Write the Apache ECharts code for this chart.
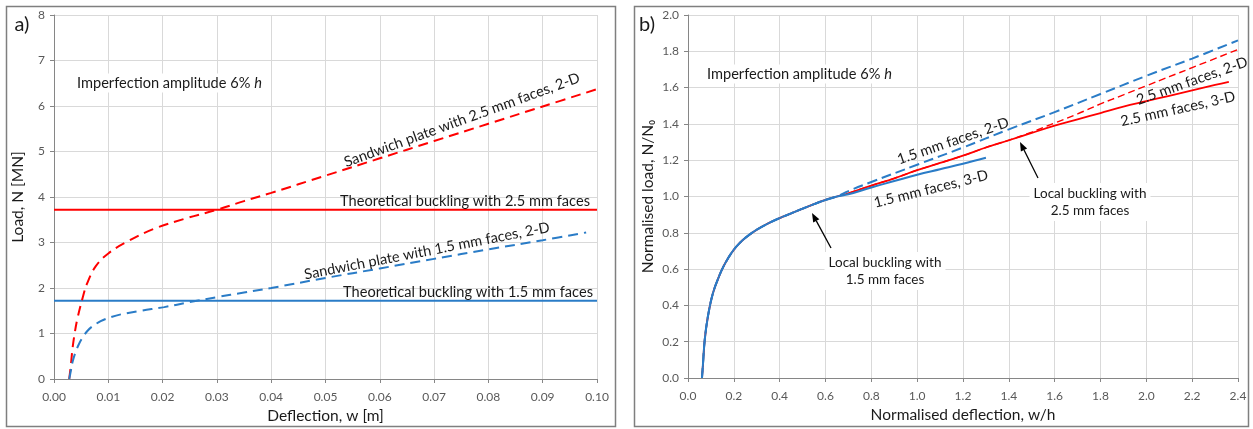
<!DOCTYPE html>
<html>
<head>
<meta charset="utf-8">
<script src="https://cdn.jsdelivr.net/npm/echarts@6/dist/echarts.min.js"></script>
<style>
  html, body { margin: 0; padding: 0; background: #fff; }
  #main { width: 1253px; height: 429px; }
</style>
</head>
<body>
<div id="main"></div>
<script>
// ---- data: panel a) load vs deflection [m, MN]
const sandwich25 = [
  [0.0028, 0], [0.0031, 0.3], [0.0034, 0.66], [0.0038, 1.0], [0.0043, 1.32], [0.0052, 1.75],
  [0.0061, 2.1], [0.0077, 2.48], [0.01, 2.76], [0.0135, 3.02], [0.0184, 3.3],
  [0.024, 3.52], [0.03, 3.72], [0.035, 3.91], [0.04, 4.09], [0.05, 4.47], [0.06, 4.85],
  [0.07, 5.23], [0.08, 5.61], [0.09, 5.99], [0.1, 6.37]
];
const sandwich15 = [
  [0.0028, 0], [0.0031, 0.18], [0.0034, 0.37], [0.004, 0.6], [0.0046, 0.77], [0.0052, 0.9],
  [0.0061, 1.05], [0.007, 1.15], [0.0086, 1.27], [0.0105, 1.36], [0.0123, 1.42], [0.016, 1.5],
  [0.0203, 1.58], [0.025, 1.69], [0.03, 1.8], [0.035, 1.9], [0.04, 2.0], [0.05, 2.22],
  [0.06, 2.43], [0.07, 2.64], [0.08, 2.85], [0.09, 3.05], [0.098, 3.22]
];
const buckling25 = 3.72;
const buckling15 = 1.72;

// ---- data: panel b) normalised load vs normalised deflection
const commonPath = [
  [0.061, 0], [0.065, 0.07], [0.073, 0.21], [0.087, 0.34], [0.109, 0.468], [0.138, 0.568],
  [0.155, 0.615], [0.175, 0.66], [0.2, 0.707], [0.225, 0.743], [0.25, 0.772], [0.3, 0.817],
  [0.35, 0.852], [0.4, 0.881], [0.45, 0.907], [0.5, 0.933], [0.55, 0.958], [0.6, 0.981], [0.65, 1.0]
];
const faces25_3D = [
  [0.7, 1.018], [0.8, 1.06], [0.9, 1.10], [1.0, 1.145], [1.1, 1.185], [1.2, 1.225],
  [1.3, 1.27], [1.4, 1.31], [1.5, 1.35], [1.6, 1.39], [1.7, 1.425], [1.8, 1.46],
  [1.9, 1.495], [2.0, 1.525], [2.1, 1.555], [2.2, 1.585], [2.3, 1.615], [2.36, 1.632]
];
const faces25_2D = [
  [0.7, 1.018], [0.8, 1.06], [0.9, 1.10], [1.0, 1.145], [1.1, 1.185], [1.2, 1.225],
  [1.3, 1.27], [1.4, 1.31], [1.5, 1.355], [1.6, 1.405], [1.7, 1.455], [1.8, 1.51],
  [1.9, 1.56], [2.0, 1.61], [2.2, 1.71], [2.4, 1.81]
];
const faces15_2D = [
  [0.7, 1.03], [0.8, 1.08], [1.0, 1.175], [1.2, 1.27], [1.4, 1.37], [1.6, 1.465],
  [1.8, 1.565], [2.0, 1.665], [2.2, 1.76], [2.4, 1.86]
];
const faces15_3D = [
  [0.7, 1.012], [0.8, 1.05], [0.9, 1.085], [1.0, 1.12], [1.1, 1.15], [1.2, 1.18], [1.3, 1.213]
];

const RED = '#ff0000';
const BLUE = '#2a7cc7';
const FONT = 'Lato';
const FS = 14.6;

const chart = echarts.init(document.getElementById('main'));

function axisX(grid, min, max, step, digits, name) {
  return {
    type: 'value', gridIndex: grid, min: min, max: max, interval: step,
    name: name, nameLocation: 'middle', nameGap: 29,
    nameTextStyle: { color: '#1a1a1a', fontSize: 15.5, fontFamily: FONT },
    axisLine: { show: true, onZero: false, lineStyle: { color: '#868686' } },
    axisTick: { show: true, length: 4, lineStyle: { color: '#868686' } },
    axisLabel: { color: '#595959', fontSize: 12, fontFamily: FONT, margin: 12,
      formatter: v => v.toFixed(digits) },
    splitLine: { show: true, lineStyle: { color: '#d9d9d9' } }
  };
}
function axisY(grid, min, max, step, digits, name, gap) {
  return {
    type: 'value', gridIndex: grid, min: min, max: max, interval: step,
    name: name, nameLocation: 'middle', nameGap: gap,
    nameTextStyle: { color: '#1a1a1a', fontSize: 15.5, fontFamily: FONT },
    axisLine: { show: true, lineStyle: { color: '#868686' } },
    axisTick: { show: true, length: 4, lineStyle: { color: '#868686' } },
    axisLabel: { color: '#595959', fontSize: 12, fontFamily: FONT, margin: 9,
      formatter: v => v.toFixed(digits) },
    splitLine: { show: true, lineStyle: { color: '#d9d9d9' } }
  };
}
function line(xi, data, color, width, dash, z) {
  return {
    type: 'line', xAxisIndex: xi, yAxisIndex: xi, data: data, showSymbol: false,
    smooth: 0.4, z: z || 2, animation: false,
    lineStyle: { color: color, width: width, type: dash || 'solid' }
  };
}
function label(text, x, y, deg, size, bg) {
  return {
    type: 'text', x: x, y: y, rotation: (deg || 0) * Math.PI / 180, z: 10,
    style: {
      text: text, fill: '#1a1a1a', font: (size || FS) + 'px ' + FONT,
      align: 'center', verticalAlign: 'middle',
      backgroundColor: bg ? '#fff' : undefined, padding: bg ? [2, 4] : 0,
      lineHeight: 17
    }
  };
}
function arrow(x1, y1, x2, y2) {
  const dx = x2 - x1, dy = y2 - y1, len = Math.hypot(dx, dy);
  const ux = dx / len, uy = dy / len, hl = 9, hw = 3.5;
  const bx = x2 - ux * hl, by = y2 - uy * hl;
  return [
    { type: 'line', z: 10, shape: { x1: x1, y1: y1, x2: bx, y2: by },
      style: { stroke: '#000', lineWidth: 1.3 } },
    { type: 'polygon', z: 10, shape: { points: [[x2, y2], [bx - uy * hw, by + ux * hw], [bx + uy * hw, by - ux * hw]] },
      style: { fill: '#000' } }
  ];
}
function note(x, y) {
  return {
    type: 'text', x: x, y: y, z: 10,
    style: { text: '{n|Imperfection amplitude 6% }{i|h}', verticalAlign: 'middle',
      backgroundColor: '#fff', padding: [2, 2],
      rich: { n: { font: FS + 'px ' + FONT, fill: '#1a1a1a' },
              i: { font: 'italic ' + FS + 'px ' + FONT, fill: '#1a1a1a' } } }
  };
}

const flat25 = [[0, buckling25], [0.1, buckling25]];
const flat15 = [[0, buckling15], [0.1, buckling15]];

chart.setOption({
  animation: false,
  backgroundColor: '#fff',
  grid: [
    { left: 54, top: 15, width: 543, height: 365 },
    { left: 688, top: 15, width: 550, height: 363 }
  ],
  xAxis: [
    axisX(0, 0, 0.1, 0.01, 2, 'Deflection, w [m]'),
    axisX(1, 0, 2.4, 0.2, 1, 'Normalised deflection, w/h')
  ],
  yAxis: [
    axisY(0, 0, 8, 1, 0, 'Load, N [MN]', 28),
    axisY(1, 0, 2, 0.2, 1, 'Normalised load, N/N\u2080', 32)
  ],
  series: [
    line(0, flat25, RED, 1.8),
    line(0, flat15, BLUE, 1.8),
    line(0, sandwich25, RED, 2, [10, 6], 3),
    line(0, sandwich15, BLUE, 2, [10, 6], 3),
    line(1, commonPath.concat(faces25_3D), RED, 1.8, 'solid', 2),
    line(1, commonPath.concat(faces25_2D), RED, 1.4, [7, 4], 2),
    line(1, commonPath.concat(faces15_2D), BLUE, 2, [10, 5], 3),
    line(1, commonPath.concat(faces15_3D), BLUE, 2, 'solid', 4)
  ],
  graphic: [
    { type: 'rect', z: 0, shape: { x: 6.5, y: 6.5, width: 609, height: 420 },
      style: { fill: 'none', stroke: '#7f7f7f', lineWidth: 1.5 } },
    { type: 'rect', z: 0, shape: { x: 634.5, y: 6.5, width: 614, height: 420 },
      style: { fill: 'none', stroke: '#7f7f7f', lineWidth: 1.5 } },
    label('a)', 22, 25, 0, 20),
    label('b)', 647, 25, 0, 20),
    note(75, 83),
    note(705, 74),
    label('Sandwich plate with 2.5 mm faces, 2-D', 462, 120, 20),
    label('Theoretical buckling with 2.5 mm faces', 465, 201, 0),
    label('Sandwich plate with 1.5 mm faces, 2-D', 427, 251, 11),
    label('Theoretical buckling with 1.5 mm faces', 468, 292, 0),
    label('1.5 mm faces, 2-D', 953, 141, 19),
    label('1.5 mm faces, 3-D', 931, 189, 14),
    label('2.5 mm faces, 2-D', 1192, 81, 19.5),
    label('2.5 mm faces, 3-D', 1178, 109, 12.5),
    label('Local buckling with\n2.5 mm faces', 1090, 202, 0, 13.5, true),
    label('Local buckling with\n1.5 mm faces', 885, 271, 0, 13.5, true)
  ].concat(arrow(1038, 178, 1020, 142), arrow(831, 248, 812, 213))
});
</script>
</body>
</html>
